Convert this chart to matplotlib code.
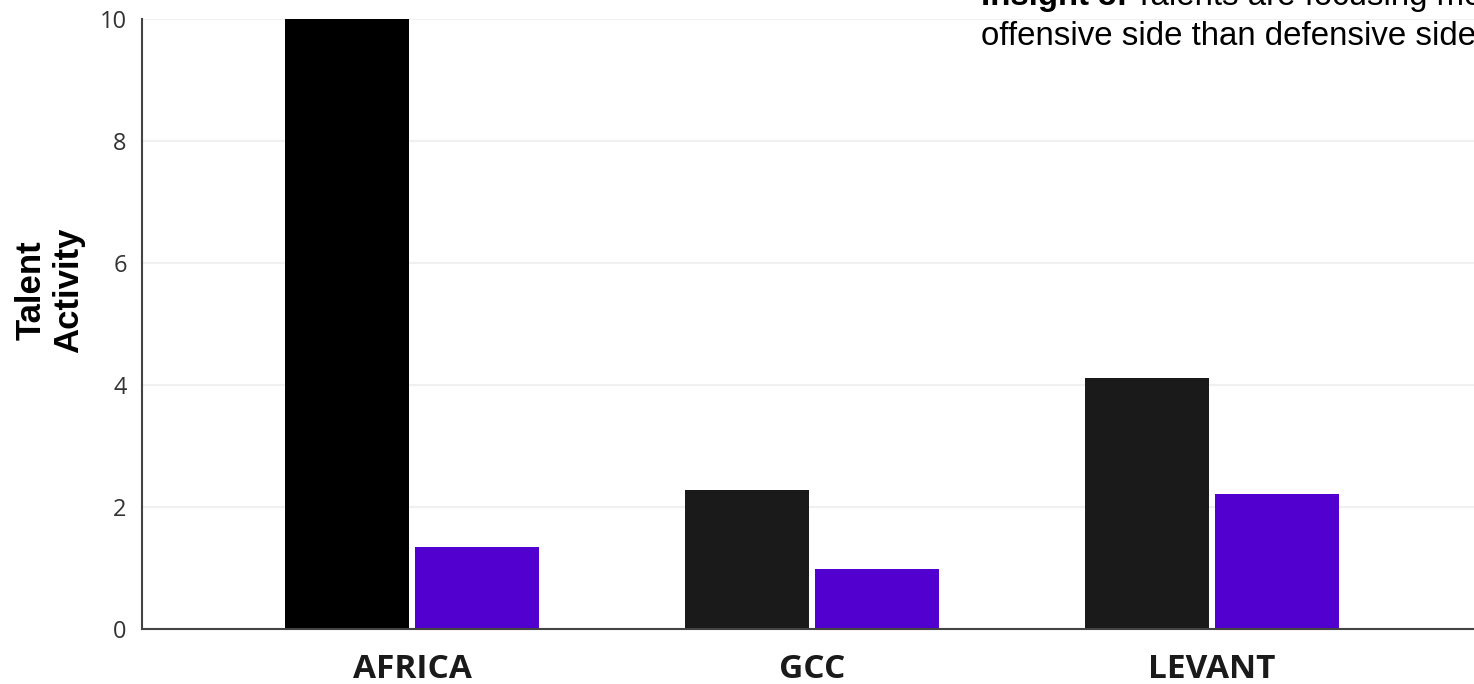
import matplotlib.pyplot as plt
import numpy as np

# Data
regions = ['AFRICA', 'GCC', 'LEVANT']
offensive = [10.0, 2.28, 4.11]
defensive = [1.34, 0.98, 2.21]
offensive_colors = ['#000000', '#1a1a1a', '#1a1a1a']
PURPLE = '#5200d0'

W, H = 1474, 684
fig = plt.figure(figsize=(W / 100, H / 100), dpi=100)
ax = fig.add_axes([142 / W, 55 / H, 1 - 142 / W, (629 - 19) / H])

x = np.arange(len(regions))
width = 0.31
gap = 0.015
ax.bar(x - width / 2 - gap / 2, offensive, width, color=offensive_colors, zorder=3)
ax.bar(x + width / 2 + gap / 2, defensive, width, color=PURPLE, zorder=3)

ax.set_xlim(-0.675, 2.655)
ax.set_ylim(0, 10)
ax.set_yticks([0, 2, 4, 6, 8, 10])
ax.grid(axis='y', color='#f0f0f0', linewidth=1.5, zorder=0)

ax.set_xticks(x)
ax.set_xticklabels(regions, fontfamily='Open Sans', fontweight='bold', fontsize=24, color='#1a1a1a')
for lbl in ax.get_yticklabels():
    lbl.set_fontfamily('Open Sans')
    lbl.set_fontsize(17)
    lbl.set_color('#333333')
ax.tick_params(axis='both', length=0)
ax.tick_params(axis='x', pad=17)
ax.tick_params(axis='y', pad=11)

for side in ['top', 'right']:
    ax.spines[side].set_visible(False)
for side in ['left', 'bottom']:
    ax.spines[side].set_color('#444444')
    ax.spines[side].set_linewidth(1.5)
    ax.spines[side].set_zorder(4)

fig.text(50 / W, 1 - 290 / H, 'Talent\nActivity', rotation=90, ha='center', va='center',
         fontfamily='Liberation Sans', fontweight='bold', fontsize=25, linespacing=1.15)

# insight text, clipped by the top of the figure as in the reference
x0 = 981 / W
y1 = 1 - 5 / H
y2 = 1 - 45 / H
bold = fig.text(x0, y1, 'Insight 3:', ha='left', va='baseline',
                fontfamily='Liberation Sans', fontweight='bold', fontsize=23.8)
fig.canvas.draw()
bb = bold.get_window_extent()
fig.text(bb.x1 / W + 7 / W, y1, 'Talents are focusing more on the', ha='left', va='baseline',
         fontfamily='Liberation Sans', fontsize=23.8)
fig.text(x0, y2, 'offensive side than defensive side', ha='left', va='baseline',
         fontfamily='Liberation Sans', fontsize=23.8)

fig.savefig('out.png', dpi=100)
